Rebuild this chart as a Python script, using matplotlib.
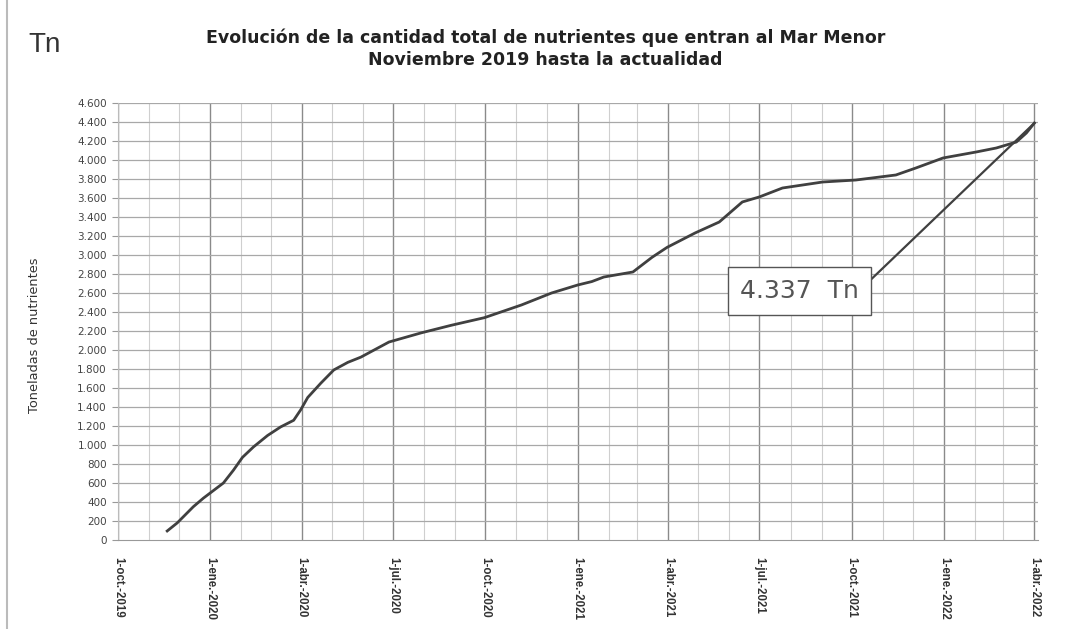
import numpy as np
import pandas as pd
import matplotlib.pyplot as plt
from matplotlib.lines import Line2D

#### data ####
dates = ['2019-11-19', '2019-11-29', '2019-12-15', '2019-12-25', '2020-01-04',
         '2020-01-14', '2020-01-24', '2020-02-02', '2020-02-13', '2020-02-27',
         '2020-03-11', '2020-03-24', '2020-03-31', '2020-04-07', '2020-04-20',
         '2020-05-03', '2020-05-17', '2020-05-30', '2020-06-27', '2020-07-29',
         '2020-08-28', '2020-09-30', '2020-11-06', '2020-12-06', '2021-01-01',
         '2021-01-15', '2021-01-27', '2021-02-25', '2021-03-16', '2021-03-31',
         '2021-04-28', '2021-05-22', '2021-06-14', '2021-07-01', '2021-07-24',
         '2021-09-02', '2021-10-05', '2021-11-14', '2021-12-04', '2021-12-31',
         '2022-02-02', '2022-02-22', '2022-03-14', '2022-03-24', '2022-04-01']
tons = [95, 180, 350, 440, 520,
        600, 735, 870, 980, 1100,
        1190, 1260, 1370, 1500, 1650,
        1790, 1870, 1925, 2084, 2180,
        2260, 2340, 2474, 2600, 2684,
        2720, 2768, 2821, 2975, 3080,
        3232, 3347, 3558, 3611, 3705,
        3768, 3789, 3842, 3916, 4021,
        4084, 4126, 4189, 4284, 4389]

tick_dates = ['2019-10-01', '2020-01-01', '2020-04-01', '2020-07-01', '2020-10-01',
              '2021-01-01', '2021-04-01', '2021-07-01', '2021-10-01', '2022-01-01',
              '2022-04-01']
tick_labels = ['1-oct.-2019', '1-ene.-2020', '1-abr.-2020', '1-jul.-2020', '1-oct.-2020',
               '1-ene.-2021', '1-abr.-2021', '1-jul.-2021', '1-oct.-2021', '1-ene.-2022',
               '1-abr.-2022']
callout = '4.337  Tn'

x = pd.to_datetime(dates)
ticks = pd.to_datetime(tick_dates)

plt.rcParams['font.family'] = ['Liberation Sans', 'DejaVu Sans']

fig = plt.figure(figsize=(10.69, 6.29), dpi=100)
ax = fig.add_axes([0.1104, 0.1415, 0.8610, 0.6948])

# grid: monthly light, quarterly darker, every 200 horizontal
months = pd.date_range('2019-10-01', '2022-04-01', freq='MS')
for m in months:
    if m in ticks:
        ax.axvline(m, color='#8a8a8a', lw=1.0, zorder=0)
    else:
        ax.axvline(m, color='#cfcfcf', lw=0.8, zorder=0)
for v in range(200, 4601, 200):
    ax.axhline(v, color='#a8a8a8', lw=0.9, zorder=0)

ax.plot(x, tons, color='#404040', lw=2.0, zorder=3)

ax.set_xlim(pd.Timestamp('2019-10-01'), pd.Timestamp('2022-04-05'))
ax.set_ylim(0, 4600)
ax.set_yticks(range(0, 4601, 200))
ax.set_yticklabels([f'{v:,}'.replace(',', '.') for v in range(0, 4601, 200)],
                   fontsize=7.5, color='#444444', family='DejaVu Sans')
ax.set_xticks(ticks)
ax.set_xticklabels(tick_labels, rotation=-90, fontsize=8.3, fontweight='bold',
                   color='#333333', va='top', ha='center')
ax.tick_params(axis='x', length=0, pad=12)
ax.tick_params(axis='y', length=4, color='#999999', pad=4)
for s in ['top', 'right']:
    ax.spines[s].set_visible(False)
ax.spines['left'].set_color('#bbbbbb')
ax.spines['bottom'].set_color('#999999')

fig.text(35 / 1069, 1 - 335 / 629, 'Toneladas de nutrientes', rotation=90,
         ha='center', va='center', fontsize=9.3, color='#333333', family='DejaVu Sans')

# callout with leader line to the last point
ax.annotate(callout, xy=(x[-1], tons[-1]),
            xytext=(pd.Timestamp('2021-08-10'), 2621),
            fontsize=18, color='#555555', ha='center', va='center',
            family='DejaVu Sans',
            bbox=dict(boxstyle='square,pad=0.47', fc='white', ec='#555555', lw=1.0),
            arrowprops=dict(arrowstyle='-', color='#404040', lw=1.6,
                            relpos=(1.0, 0.5), shrinkA=0, shrinkB=0),
            zorder=5)

fig.text(0.510, 0.940, 'Evolución de la cantidad total de nutrientes que entran al Mar Menor',
         ha='center', va='center', fontsize=12.5, fontweight='bold', color='#222222',
         family='DejaVu Sans')
fig.text(0.510, 0.905, 'Noviembre 2019 hasta la actualidad',
         ha='center', va='center', fontsize=12.5, fontweight='bold', color='#222222',
         family='DejaVu Sans')
fig.text(0.042, 0.928, 'Tn', ha='center', va='center', fontsize=20, color='#333333')

# scan border on the left
fig.add_artist(Line2D([0.0065, 0.0065], [0.0, 1.0], color='#bbbbbb', lw=1.5))

fig.savefig('out.png', dpi=100)
